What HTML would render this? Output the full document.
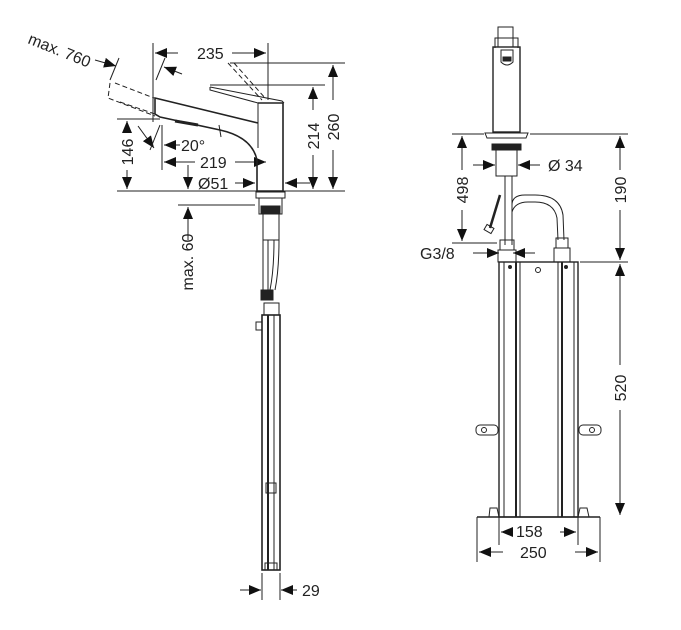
<!DOCTYPE html>
<html><head><meta charset="utf-8"><style>
html,body{margin:0;padding:0;background:#fff;width:681px;height:630px;overflow:hidden}
text{font-family:"Liberation Sans",sans-serif;fill:#222;font-size:16px}
</style></head><body>
<svg width="681" height="630" viewBox="0 0 681 630" xmlns="http://www.w3.org/2000/svg">
<defs>
<marker id="a" viewBox="0 0 12 10" refX="12" refY="5" markerWidth="12" markerHeight="10" markerUnits="userSpaceOnUse" orient="auto"><path d="M0,0L12,5L0,10z" fill="#111"/></marker>
</defs>
<g stroke="#222" stroke-width="1" fill="none">
<!-- LEFT VIEW -->
<line x1="117" y1="191" x2="345" y2="191"/>
<line x1="153" y1="43" x2="153" y2="122"/>
<line x1="268" y1="43" x2="268" y2="100"/>
<line x1="230" y1="63" x2="345" y2="63"/>
<line x1="210" y1="85" x2="325" y2="85"/>
<line x1="117" y1="119" x2="160" y2="119"/>
<line x1="162" y1="125" x2="162" y2="170"/>
<line x1="178" y1="205" x2="255" y2="205"/>
<line x1="178" y1="53" x2="155" y2="53" marker-end="url(#a)"/>
<line x1="232" y1="53" x2="266" y2="53" marker-end="url(#a)"/>
<line x1="333" y1="100" x2="333" y2="65" marker-end="url(#a)"/>
<line x1="333" y1="150" x2="333" y2="189" marker-end="url(#a)"/>
<line x1="313" y1="110" x2="313" y2="87" marker-end="url(#a)"/>
<line x1="313" y1="155" x2="313" y2="189" marker-end="url(#a)"/>
<line x1="127" y1="133" x2="127" y2="121" marker-end="url(#a)"/>
<line x1="127" y1="170" x2="127" y2="189" marker-end="url(#a)"/>
<line x1="195" y1="162" x2="164" y2="162" marker-end="url(#a)"/>
<line x1="235" y1="162" x2="266" y2="162" marker-end="url(#a)"/>
<line x1="188" y1="165" x2="188" y2="189" marker-end="url(#a)"/>
<line x1="235" y1="183" x2="255" y2="183" marker-end="url(#a)"/>
<line x1="310" y1="183" x2="285" y2="183" marker-end="url(#a)"/>
<line x1="180" y1="145" x2="164" y2="145" marker-end="url(#a)"/>
<line x1="188" y1="240" x2="188" y2="207" marker-end="url(#a)"/>
<line x1="138" y1="126" x2="154" y2="148" marker-end="url(#a)"/>
<line x1="160" y1="125" x2="150" y2="150"/>
<line x1="182" y1="74" x2="164" y2="67" marker-end="url(#a)"/>
<line x1="165" y1="58" x2="156" y2="80"/>
<line x1="95" y1="60" x2="116" y2="66" marker-end="url(#a)"/>
<line x1="119" y1="58" x2="110" y2="80"/>
<!-- faucet body -->
<path d="M258,103 L283,103 L283,191 L257,191 L257,160 Q252,137 220,130 L160,117 L155,114 L155,98 L258,123" stroke-width="1.6"/>
<line x1="258" y1="103" x2="258" y2="148"/>
<path d="M210,87 L282,101 L284,103 M210,87 L210,90 L258,103"/>
<line x1="219" y1="125" x2="221" y2="137"/>
<path d="M175,121 L198,125" stroke-width="3"/>
<g stroke-dasharray="5,3">
<path d="M228,63 L262,100 M234,63 L266,99"/>
<path d="M115,83 L154,98 M110,83 L108,98 L155,116 M120,102 L155,114"/>
</g>
<!-- below deck left -->
<rect x="256" y="192" width="29" height="6"/>
<rect x="259" y="198" width="23" height="16" fill="#fff"/>
<rect x="261" y="206" width="19" height="8" fill="#222"/>
<path d="M263,214 L263,240 M279,214 L279,240 M263,240 L279,240"/>
<path d="M263,240 L263,290 M268,240 L268,292 M274,240 Q274,270 270,290 M279,240 Q279,270 275,290"/>
<rect x="261" y="290" width="12" height="10" fill="#222"/>
<rect x="264" y="303" width="15" height="12"/>
<rect x="262" y="315" width="18" height="255" stroke-width="1.6"/>
<line x1="268" y1="315" x2="268" y2="570" stroke-width="2"/>
<line x1="274" y1="315" x2="274" y2="570"/>
<rect x="256" y="322" width="6" height="8"/>
<rect x="266" y="483" width="10" height="10"/>
<rect x="265" y="563" width="12" height="7"/>
<line x1="262" y1="573" x2="262" y2="600"/>
<line x1="280" y1="573" x2="280" y2="600"/>
<line x1="240" y1="590" x2="261" y2="590" marker-end="url(#a)"/>
<line x1="297" y1="590" x2="281" y2="590" marker-end="url(#a)"/>

<!-- RIGHT VIEW -->
<rect x="493" y="47" width="27" height="85" stroke-width="1.4"/>
<rect x="498" y="27" width="15" height="20"/>
<path d="M495,48 L495,38 L518,38 L518,48"/>
<path d="M501,50 L513,50 L513,62 Q507,68 501,62 Z" fill="#fff"/>
<rect x="503" y="57" width="8" height="4" fill="#222"/>
<path d="M485,133 L528,133 L526,138 L487,138 Z"/>
<line x1="452" y1="134" x2="484" y2="134"/>
<line x1="530" y1="134" x2="628" y2="134"/>
<rect x="492" y="144" width="29" height="6" fill="#222"/>
<rect x="496" y="150" width="21" height="26" fill="#fff"/>
<line x1="505" y1="176" x2="505" y2="245"/>
<line x1="512" y1="176" x2="512" y2="245"/>
<path d="M500,195 L490,228" stroke-width="2.5"/>
<rect x="485" y="226" width="8" height="6" transform="rotate(30 489 229)"/>
<path d="M512,205 Q512,195 525,195 L535,195 Q560,195 563,215 L564,240 M512,212 Q515,202 528,202 L535,202 Q554,202 557,218 L558,240"/>
<rect x="556" y="238" width="12" height="10"/>
<rect x="554" y="248" width="16" height="14"/>
<rect x="500" y="240" width="14" height="10"/>
<rect x="498" y="250" width="18" height="12"/>
<line x1="497" y1="243" x2="452" y2="243"/>
<rect x="499" y="262" width="79" height="255" stroke-width="1.4"/>
<line x1="504" y1="262" x2="504" y2="517"/>
<line x1="516" y1="262" x2="516" y2="517" stroke-width="2"/>
<line x1="520" y1="262" x2="520" y2="517"/>
<line x1="558" y1="262" x2="558" y2="517"/>
<line x1="562" y1="262" x2="562" y2="517" stroke-width="2"/>
<line x1="574" y1="262" x2="574" y2="517"/>
<circle cx="538" cy="270" r="2.5"/>
<circle cx="510" cy="267" r="1.5" fill="#222"/>
<circle cx="566" cy="267" r="1.5" fill="#222"/>
<rect x="476" y="425" width="22" height="10" rx="4"/>
<rect x="579" y="425" width="22" height="10" rx="4"/>
<circle cx="484" cy="430" r="2.5"/><circle cx="592" cy="430" r="2.5"/>
<path d="M489,517 L490,508 L497,508 L499,517 M578,517 L580,508 L587,508 L589,517"/>
<line x1="477" y1="517" x2="600" y2="517" stroke-width="1.4"/>
<line x1="477" y1="517" x2="477" y2="562"/>
<line x1="600" y1="517" x2="600" y2="562"/>
<line x1="499" y1="517" x2="499" y2="545"/>
<line x1="578" y1="517" x2="578" y2="545"/>
<line x1="580" y1="262" x2="628" y2="262"/>
<line x1="462" y1="170" x2="462" y2="136" marker-end="url(#a)"/>
<line x1="462" y1="210" x2="462" y2="241" marker-end="url(#a)"/>
<line x1="620" y1="170" x2="620" y2="136" marker-end="url(#a)"/>
<line x1="620" y1="210" x2="620" y2="260" marker-end="url(#a)"/>
<line x1="620" y1="365" x2="620" y2="264" marker-end="url(#a)"/>
<line x1="620" y1="410" x2="620" y2="515" marker-end="url(#a)"/>
<line x1="473" y1="165" x2="495" y2="165" marker-end="url(#a)"/>
<line x1="540" y1="165" x2="518" y2="165" marker-end="url(#a)"/>
<line x1="473" y1="253" x2="499" y2="253" marker-end="url(#a)"/>
<line x1="535" y1="253" x2="513" y2="253" marker-end="url(#a)"/>
<line x1="512" y1="532" x2="501" y2="532" marker-end="url(#a)"/>
<line x1="560" y1="532" x2="576" y2="532" marker-end="url(#a)"/>
<line x1="503" y1="552" x2="479" y2="552" marker-end="url(#a)"/>
<line x1="575" y1="552" x2="598" y2="552" marker-end="url(#a)"/>
</g>
<text x="197" y="59">235</text>
<text x="181" y="151">20°</text>
<text x="200" y="168">219</text>
<text x="198" y="189">Ø51</text>
<text x="302" y="596">29</text>
<text transform="translate(339,127) rotate(-90)" text-anchor="middle">260</text>
<text transform="translate(319,136) rotate(-90)" text-anchor="middle">214</text>
<text transform="translate(133,152) rotate(-90)" text-anchor="middle">146</text>
<text transform="translate(193,262) rotate(-90)" text-anchor="middle" font-size="14">max. 60</text>
<text transform="translate(27,43) rotate(22)" font-size="15">max. 760</text>
<text x="548" y="171">Ø 34</text>
<text x="420" y="259">G3/8</text>
<text x="516" y="537">158</text>
<text x="520" y="558">250</text>
<text transform="translate(468,190) rotate(-90)" text-anchor="middle">498</text>
<text transform="translate(626,190) rotate(-90)" text-anchor="middle">190</text>
<text transform="translate(626,388) rotate(-90)" text-anchor="middle">520</text>
</svg>
</body></html>
